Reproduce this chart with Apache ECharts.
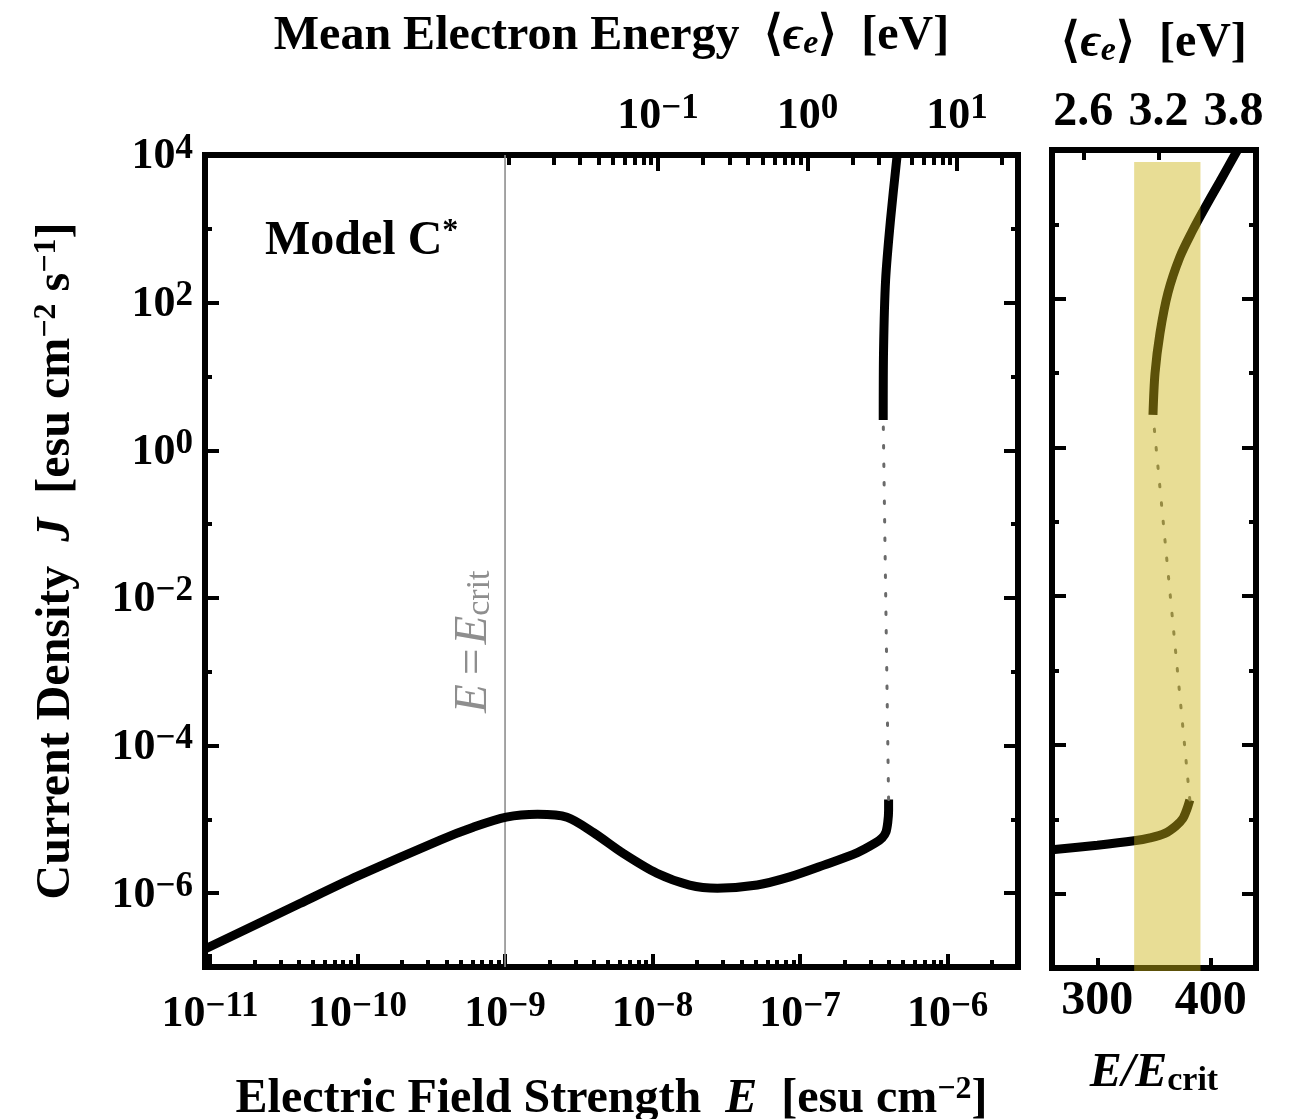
<!DOCTYPE html>
<html><head><meta charset="utf-8">
<script src="https://cdn.jsdelivr.net/npm/echarts@6/dist/echarts.min.js"></script>
<style>html,body{margin:0;padding:0;background:#fff}#c{width:1291px;height:1119px}</style>
</head><body><div id="c"></div>
<script>
// ---------------- data ----------------
// Left panel: E [esu cm^-2] vs J [esu cm^-2 s^-1]
const lowerE = [9.25e-12, 4.07e-11, 1.0e-10, 3.63e-10, 6.03e-10, 1.02e-9, 1.66e-9, 2.63e-9, 3.98e-9, 6.31e-9, 1.07e-8, 1.78e-8, 2.75e-8, 5.13e-8, 8.51e-8, 1.45e-7, 2.45e-7, 3.24e-7, 3.6e-7, 3.82e-7, 3.93e-7, 3.98e-7, 3.98e-7];
const lowerJ = [1.75e-7, 7.24e-7, 1.70e-6, 5.25e-6, 7.76e-6, 1.07e-5, 1.17e-5, 1.07e-5, 6.61e-6, 3.47e-6, 1.86e-6, 1.29e-6, 1.17e-6, 1.29e-6, 1.66e-6, 2.40e-6, 3.55e-6, 4.79e-6, 5.62e-6, 6.76e-6, 9.12e-6, 1.32e-5, 1.86e-5];
const upperE = [3.66e-7, 3.68e-7, 3.80e-7, 4.10e-7, 4.55e-7];
const upperJ = [2.57, 22.9, 204, 1318, 1.0e4];
const eCrit = 1e-9;
// Right panel: E/E_crit vs J
const ratioLower = [260, 300, 332.5, 346.5, 359.6, 369.3, 375.4, 378.9, 381.6];
const ratioLowerJ = [3.89e-6, 4.47e-6, 5.13e-6, 5.62e-6, 6.46e-6, 8.13e-6, 1.02e-5, 1.35e-5, 1.82e-5];
const ratioUpper = [349.1, 350.9, 355.3, 362.3, 372.8, 384.2, 393.0, 407.9, 423.7];
const ratioUpperJ = [2.75, 10, 34.7, 120, 363, 832, 1479, 3715, 1.0e4];
const band = [332.5, 391.0, 6900, 1e-7]; // x0, x1, J top, J bottom
// tick values
const eMajor = [1e-11, 1e-10, 1e-9, 1e-8, 1e-7, 1e-6];
const jMajor = [1e-6, 1e-4, 1e-2, 1, 1e2, 1e4];
const jMinor = [1e-7, 1e-5, 1e-3, 1e-1, 1e1, 1e3];
const energyMajor = [0.1, 1, 10];
const ratioTicks = [300, 400];
const ratioEnergyTicks = [2.6, 3.2, 3.8];

function minors(e0, e1, lo, hi) {
  const out = [];
  for (let n = e0; n <= e1; n++) for (let k = 2; k <= 9; k++) {
    const v = Number((k * Math.pow(10, n)).toPrecision(3));
    if (v >= lo && v <= hi) out.push(v);
  }
  return out;
}
const E_MIN = 9.25e-12, E_MAX = 3.0e-6;
const EN_MIN = 9.33e-5, EN_MAX = 25.6;
const eMinor = minors(-11, -6, E_MIN, E_MAX);
const energyMinor = [0.01].concat(minors(-2, 1, 0.015, EN_MAX));

// ---------------- styling ----------------
const F = '"Liberation Serif", "Times New Roman", serif';
const richLab = {
  b: {fontFamily: F, fontWeight: 'bold', fontSize: 44, lineHeight: 48, verticalAlign: 'bottom', color: '#000'},
  s: {fontFamily: F, fontWeight: 'bold', fontSize: 35, lineHeight: 20, verticalAlign: 'top', color: '#000'}
};
const richLabR = {
  b: {fontFamily: F, fontWeight: 'bold', fontSize: 48, lineHeight: 50, verticalAlign: 'bottom', color: '#000'}
};
const richTitle = {
  t: {fontFamily: F, fontWeight: 'bold', fontSize: 48, lineHeight: 50, verticalAlign: 'bottom', color: '#000'},
  i: {fontFamily: F, fontWeight: 'bold', fontStyle: 'italic', fontSize: 48, lineHeight: 50, verticalAlign: 'bottom', color: '#000'},
  s: {fontFamily: F, fontWeight: 'bold', fontSize: 32, lineHeight: 18, verticalAlign: 'top', color: '#000'},
  sub: {fontFamily: F, fontWeight: 'bold', fontSize: 34, lineHeight: 30, verticalAlign: 'bottom', color: '#000'},
  isub: {fontFamily: F, fontWeight: 'bold', fontStyle: 'italic', fontSize: 34, lineHeight: 30, verticalAlign: 'bottom', color: '#000'}
};
function pow10(v) {
  const n = Math.round(Math.log10(v));
  return '{b|10}{s|' + (n < 0 ? '\u2212' + (-n) : String(n)) + '}';
}
function tickAxis(o) {
  return Object.assign({
    splitLine: {show: false}, axisLine: {show: false},
    axisLabel: {show: false}
  }, o);
}
function ticks(vals, len) {
  return {show: true, inside: true, length: len, customValues: vals, lineStyle: {color: '#000', width: 4}};
}

const xAxis = [
  tickAxis({type: 'log', gridIndex: 0, position: 'bottom', min: E_MIN, max: E_MAX,
    axisTick: ticks(eMajor, 13),
    axisLabel: {show: true, customValues: eMajor, formatter: pow10, rich: richLab, margin: 22},
    name: '{t|Electric Field Strength  }{i|E}{t|  [esu cm}{s|\u22122}{t|]}',
    nameLocation: 'middle', nameGap: 107, nameTextStyle: {rich: richTitle}}),
  tickAxis({type: 'log', gridIndex: 0, position: 'bottom', min: E_MIN, max: E_MAX, axisTick: ticks(eMinor, 7)}),
  tickAxis({type: 'log', gridIndex: 0, position: 'top', min: EN_MIN, max: EN_MAX,
    axisTick: ticks(energyMajor, 16),
    axisLabel: {show: true, customValues: energyMajor, formatter: pow10, rich: richLab, margin: 16},
    name: '{t|Mean Electron Energy  \u27E8}{i|\u03F5}{isub|e}{t|\u27E9  [eV]}',
    nameLocation: 'middle', nameGap: 94, nameTextStyle: {rich: richTitle}}),
  tickAxis({type: 'log', gridIndex: 0, position: 'top', min: EN_MIN, max: EN_MAX, axisTick: ticks(energyMinor, 10)}),
  tickAxis({type: 'value', gridIndex: 1, position: 'bottom', min: 260, max: 440,
    axisTick: ticks(ratioTicks, 10),
    axisLabel: {show: true, customValues: ratioTicks, formatter: '{b|{value}}', rich: richLabR, margin: 8},
    name: '{i|E}{i|/}{i|E}{sub|crit}', nameLocation: 'middle', nameGap: 80, nameTextStyle: {rich: richTitle}}),
  tickAxis({type: 'value', gridIndex: 1, position: 'top', min: 2.35, max: 3.98,
    axisTick: ticks(ratioEnergyTicks, 10),
    axisLabel: {show: true, customValues: ratioEnergyTicks, formatter: (v) => '{b|' + v.toFixed(1) + '}', rich: richLabR, margin: 13},
    name: '{t|\u27E8}{i|\u03F5}{isub|e}{t|\u27E9  [eV]}', nameLocation: 'middle', nameGap: 82, nameTextStyle: {rich: richTitle}})
];
const yAxis = [
  tickAxis({type: 'log', gridIndex: 0, position: 'left', min: 1e-7, max: 1e4,
    axisTick: ticks(jMajor, 14),
    axisLabel: {show: true, customValues: jMajor, formatter: pow10, rich: richLab, margin: 12},
    name: '{t|Current Density  }{i|J}{t|  [esu cm}{s|\u22122}{t| s}{s|\u22121}{t|]}',
    nameLocation: 'middle', nameGap: 124, nameTextStyle: {rich: richTitle}}),
  tickAxis({type: 'log', gridIndex: 0, position: 'left', min: 1e-7, max: 1e4, axisTick: ticks(jMinor, 7)}),
  tickAxis({type: 'log', gridIndex: 0, position: 'right', min: 1e-7, max: 1e4, axisTick: ticks(jMajor, 14)}),
  tickAxis({type: 'log', gridIndex: 0, position: 'right', min: 1e-7, max: 1e4, axisTick: ticks(jMinor, 7)}),
  tickAxis({type: 'log', gridIndex: 1, position: 'left', min: 1e-7, max: 1e4, axisTick: ticks(jMajor, 14)}),
  tickAxis({type: 'log', gridIndex: 1, position: 'left', min: 1e-7, max: 1e4, axisTick: ticks(jMinor, 7)}),
  tickAxis({type: 'log', gridIndex: 1, position: 'right', min: 1e-7, max: 1e4, axisTick: ticks(jMajor, 14)}),
  tickAxis({type: 'log', gridIndex: 1, position: 'right', min: 1e-7, max: 1e4, axisTick: ticks(jMinor, 7)})
];

function zip(a, b) { return a.map((v, i) => [v, b[i]]); }
const thick = {color: '#000', width: 9};
const dotted = {color: '#6a6a6a', width: 3, type: [2.5, 16], cap: 'round'};

const series = [
  {type: 'line', xAxisIndex: 0, yAxisIndex: 0, data: [[eCrit, 1e-7], [eCrit, 1e4]], showSymbol: false,
   lineStyle: {color: '#8e8e8e', width: 1.6}, silent: true, z: 1},
  {type: 'line', xAxisIndex: 0, yAxisIndex: 0, data: zip(lowerE, lowerJ), showSymbol: false, smooth: 0.3, lineStyle: thick},
  {type: 'line', xAxisIndex: 0, yAxisIndex: 0, data: zip(upperE, upperJ), showSymbol: false, smooth: 0.3, lineStyle: thick},
  {type: 'line', xAxisIndex: 0, yAxisIndex: 0, data: [[lowerE[lowerE.length - 1], lowerJ[lowerJ.length - 1]], [upperE[0], upperJ[0]]], showSymbol: false, lineStyle: dotted},
  {type: 'line', xAxisIndex: 4, yAxisIndex: 4, data: zip(ratioLower, ratioLowerJ), showSymbol: false, smooth: 0.3, lineStyle: thick},
  {type: 'line', xAxisIndex: 4, yAxisIndex: 4, data: zip(ratioUpper, ratioUpperJ), showSymbol: false, smooth: 0.3, lineStyle: thick},
  {type: 'line', xAxisIndex: 4, yAxisIndex: 4, data: [[ratioLower[ratioLower.length - 1], ratioLowerJ[ratioLowerJ.length - 1]], [ratioUpper[0], ratioUpperJ[0]]], showSymbol: false, lineStyle: dotted},
  {type: 'custom', xAxisIndex: 4, yAxisIndex: 4, z: 10, silent: true, data: [band],
   renderItem: function (params, api) {
     const p0 = api.coord([api.value(0), api.value(2)]);
     const p1 = api.coord([api.value(1), api.value(3)]);
     return {type: 'rect', shape: {x: p0[0], y: p0[1], width: p1[0] - p0[0], height: p1[1] - p0[1] + 3},
       style: {fill: 'rgba(205,180,20,0.45)'}};
   }}
];

const chart = echarts.init(document.getElementById('c'), null, {renderer: 'canvas'});
chart.setOption({
  animation: false,
  backgroundColor: '#fff',
  grid: [
    {left: 205, top: 155, width: 813, height: 812, show: true, borderColor: '#000', borderWidth: 6, backgroundColor: 'transparent', outerBoundsMode: 'none', containLabel: false},
    {left: 1052, top: 150, width: 204, height: 818, show: true, borderColor: '#000', borderWidth: 6, backgroundColor: 'transparent', outerBoundsMode: 'none', containLabel: false}
  ],
  xAxis: xAxis,
  yAxis: yAxis,
  series: series,
  graphic: [
    {type: 'text', left: 265, top: 216, z: 20,
     style: {text: '{t|Model C}{s|*}', rich: richTitle, fill: '#000'}},
    {type: 'text', x: 449, y: 713, rotation: Math.PI / 2, z: 20,
     style: {text: '{i|E}{r|\u2009=\u200A}{i|E}{u|crit}', fill: '#8e8e8e', rich: {
       i: {fontFamily: F, fontStyle: 'italic', fontSize: 47, lineHeight: 48, verticalAlign: 'bottom', fill: '#8e8e8e'},
       r: {fontFamily: F, fontSize: 47, lineHeight: 48, verticalAlign: 'bottom', fill: '#8e8e8e'},
       u: {fontFamily: F, fontSize: 34, lineHeight: 28, verticalAlign: 'bottom', fill: '#8e8e8e'}
     }}}
  ]
});
</script>
</body></html>
